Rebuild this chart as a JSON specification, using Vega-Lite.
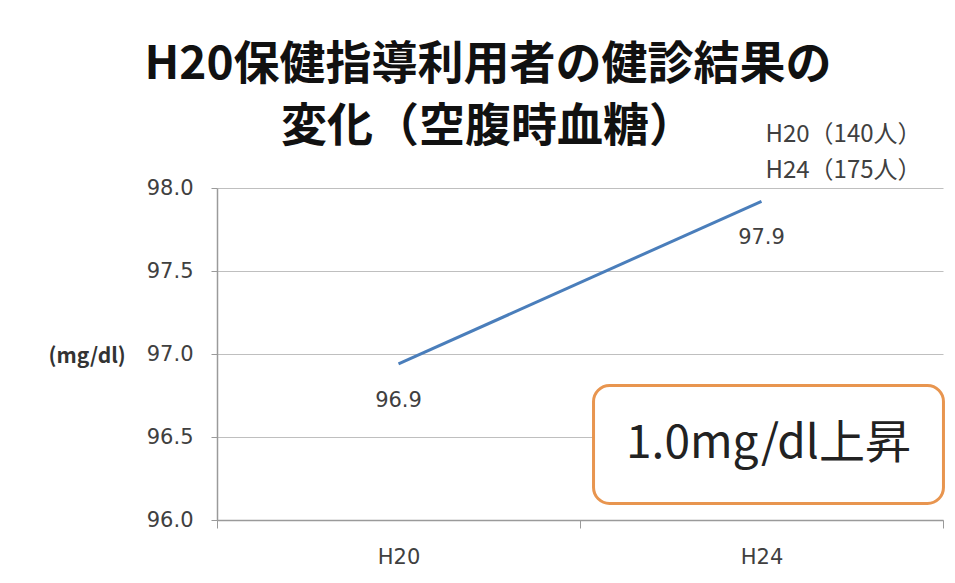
{
  "$schema": "https://vega.github.io/schema/vega-lite/v6.json",
  "width": 726,
  "height": 332,
  "autosize": "none",
  "padding": {"left": 217, "top": 188, "right": 12, "bottom": 63},
  "background": "white",
  "title": {
    "text": ["H20保健指導利用者の健診結果の", "変化（空腹時血糖）"],
    "font": "Noto Sans CJK JP",
    "fontWeight": "bold",
    "fontSize": 46,
    "lineHeight": 62,
    "color": "#111111",
    "anchor": "middle",
    "frame": "group",
    "dx": -92,
    "dy": 58,
    "offset": 30
  },
  "config": {
    "view": {"stroke": null},
    "font": "Noto Sans CJK JP"
  },
  "datasets": {
    "main": [
      {"year": "H20", "value": 96.94, "label": "96.9"},
      {"year": "H24", "value": 97.92, "label": "97.9"}
    ],
    "note": [
      {"year": "H24", "value": 96.46, "low": 96.1, "high": 96.81, "text": "1.0mg/dl上昇"}
    ],
    "counts": [
      {"year": "H24", "value": 98.32, "text": "H20（140人）"},
      {"year": "H24", "value": 98.1, "text": "H24（175人）"}
    ]
  },
  "layer": [
    {
      "data": {"name": "main"},
      "mark": {"type": "line", "color": "#4A7EBB", "strokeWidth": 3},
      "encoding": {
        "x": {
          "field": "year",
          "type": "nominal",
          "scale": {"domain": ["H20", "H24"], "paddingInner": 0, "paddingOuter": 0},
          "axis": {
            "title": null,
            "labelAngle": 0,
            "tickBand": "extent",
            "labelFont": "DejaVu Sans",
            "labelFontSize": 21,
            "labelColor": "#404040",
            "labelPadding": 18,
            "tickSize": 8,
            "tickColor": "#9a9a9a",
            "domainColor": "#9a9a9a",
            "domainWidth": 1.5
          }
        },
        "y": {
          "field": "value",
          "type": "quantitative",
          "scale": {"domain": [96, 98], "nice": false, "zero": false},
          "axis": {
            "title": "(mg/dl)",
            "titleAngle": 0,
            "titleX": -169,
            "titleY": 168,
            "titleAlign": "left",
            "titleBaseline": "middle",
            "titleFontSize": 21,
            "titleFontWeight": "bold",
            "titleColor": "#333333",
            "values": [96, 96.5, 97, 97.5, 98],
            "format": ".1f",
            "labelFont": "DejaVu Sans",
            "labelFontSize": 21,
            "labelColor": "#404040",
            "labelPadding": 18,
            "tickSize": 6,
            "tickColor": "#9a9a9a",
            "domainColor": "#9a9a9a",
            "domainWidth": 1.5,
            "gridColor": "#bfbfbf",
            "gridWidth": 1.2
          }
        }
      }
    },
    {
      "data": {"name": "main"},
      "mark": {"type": "text", "dy": 37, "font": "DejaVu Sans", "fontSize": 21, "color": "#404040"},
      "encoding": {
        "x": {"field": "year", "type": "nominal"},
        "y": {"field": "value", "type": "quantitative"},
        "text": {"field": "label"}
      }
    },
    {
      "data": {"name": "note"},
      "mark": {
        "type": "rect",
        "width": {"band": 0.964},
        "xOffset": 7,
        "fill": "white",
        "stroke": "#E8954F",
        "strokeWidth": 3,
        "cornerRadius": 16
      },
      "encoding": {
        "x": {"field": "year", "type": "nominal"},
        "y": {"field": "low", "type": "quantitative"},
        "y2": {"field": "high"}
      }
    },
    {
      "data": {"name": "note"},
      "mark": {"type": "text", "dx": 7, "fontSize": 46, "color": "#222222", "baseline": "middle"},
      "encoding": {
        "x": {"field": "year", "type": "nominal"},
        "y": {"field": "value", "type": "quantitative"},
        "text": {"field": "text"}
      }
    },
    {
      "data": {"name": "counts"},
      "mark": {"type": "text", "align": "left", "dx": 4, "fontSize": 24, "color": "#404040", "baseline": "middle"},
      "encoding": {
        "x": {"field": "year", "type": "nominal"},
        "y": {"field": "value", "type": "quantitative"},
        "text": {"field": "text"}
      }
    }
  ]
}
